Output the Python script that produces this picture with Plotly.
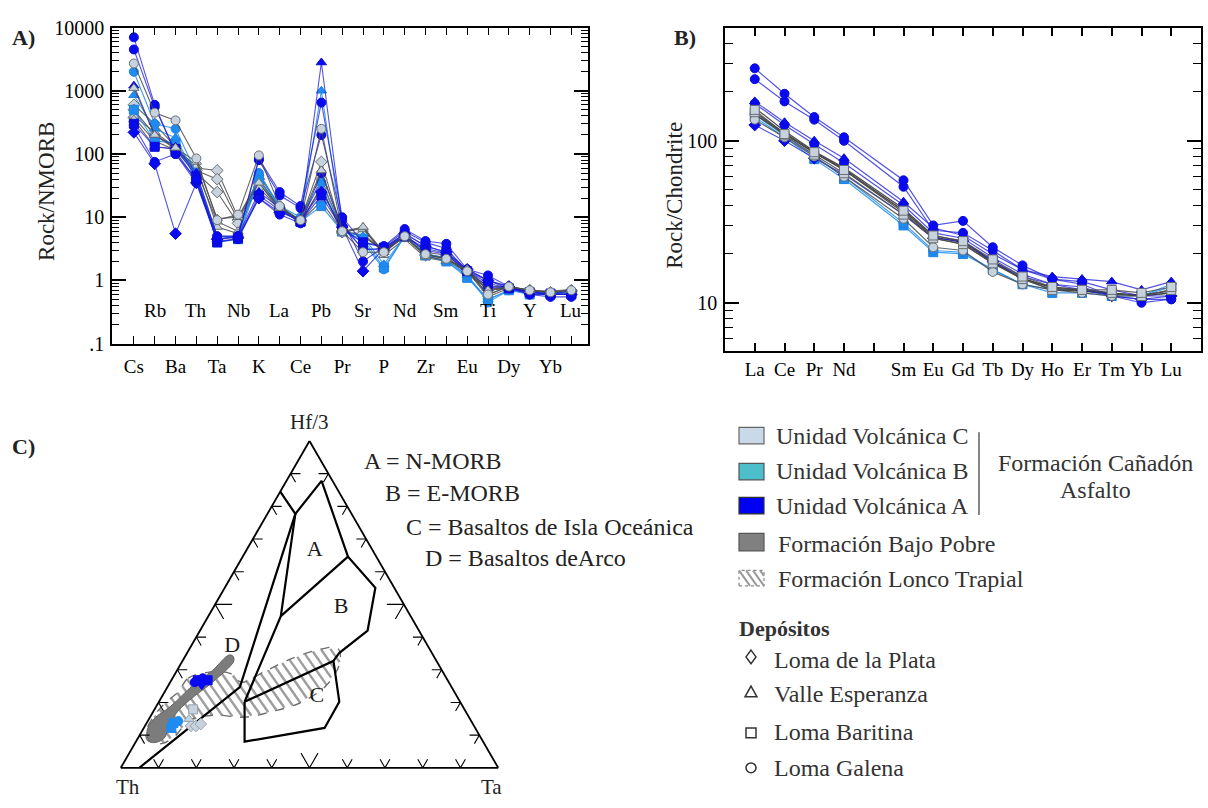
import numpy as np
import plotly.graph_objects as go

FONT = "Liberation Serif"
W, H = 1208, 808

# ---------------- Spider diagram normalised to N-MORB ----------------
spider_elements = ["Cs", "Rb", "Ba", "Th", "Ta", "Nb", "K", "La", "Ce", "Pb", "Pr",
                   "Sr", "P", "Nd", "Zr", "Sm", "Eu", "Ti", "Dy", "Y", "Yb", "Lu"]

# Unidad Volcánica A
nm_a1 = [7000, 600, 100, 40, 5.0, 5.0, 85, 25, 15, 650, 10, 4.0, 3.5, 6.5, 4.2, 3.8, 1.5, 1.2, 0.80, 0.65, 0.60, 0.60]
nm_a2 = [4500, 550, 110, 38, 4.5, 5.0, 80, 22, 14, 200, 9.0, 2.0, 3.4, 6.0, 4.0, 3.2, 1.4, 1.0, 0.80, 0.60, 0.55, 0.55]
nm_a3 = [220, 70, 5.5, 35, 4.5, 4.8, 20, 12, 9.0, 25, 7.0, 1.4, 3.2, 5.5, 3.5, 2.8, 1.5, 1.0, 0.80, 0.65, 0.60, 0.60]
nm_a4 = [1200, 200, 130, 50, 5.0, 5.0, 25, 14, 9.0, 2800, 8.0, 3.0, 3.3, 5.5, 3.5, 2.8, 1.5, 1.0, 0.75, 0.65, 0.60, 0.70]
nm_a5 = [280, 75, 100, 35, 4.2, 4.5, 20, 11, 8.0, 50, 7.0, 3.2, 3.0, 5.0, 3.0, 2.6, 1.4, 0.9, 0.75, 0.60, 0.60, 0.60]
nm_a6 = [300, 130, 120, 45, 4.0, 4.6, 22, 13, 8.5, 22, 6.5, 4.0, 3.3, 5.0, 3.2, 2.7, 1.4, 0.8, 0.75, 0.65, 0.62, 0.62]
# Unidad Volcánica B
nm_b1 = [2000, 300, 250, 50, 5.0, 5.0, 50, 15, 10, 35, 6.5, 4.0, 1.5, 5.0, 2.7, 2.2, 1.2, 0.45, 0.70, 0.65, 0.62, 0.65]
nm_b2 = [850, 250, 180, 45, 4.5, 5.0, 50, 14, 9.0, 1000, 6.0, 5.0, 1.8, 5.0, 2.5, 2.0, 1.2, 0.50, 0.70, 0.65, 0.60, 0.70]
nm_b3 = [500, 160, 150, 40, 4.0, 4.5, 40, 13, 8.5, 15, 6.0, 4.5, 1.6, 5.0, 2.5, 2.0, 1.1, 0.50, 0.70, 0.60, 0.60, 0.60]
# Unidad Volcánica C
nm_c1 = [2700, 450, 340, 85, 9.0, 11, 95, 15, 9.0, 250, 6.0, 2.8, 2.8, 5.0, 2.6, 2.2, 1.4, 0.60, 0.80, 0.70, 0.65, 0.70]
nm_c2 = [400, 220, 130, 55, 8.5, 6.0, 45, 15, 8.5, 18, 6.0, 6.5, 2.8, 5.0, 2.5, 2.2, 1.5, 0.60, 0.80, 0.70, 0.68, 0.72]
nm_c3 = [350, 130, 120, 65, 7.0, 5.5, 40, 14, 8.0, 30, 5.5, 7.0, 2.5, 4.5, 2.3, 2.0, 1.4, 0.55, 0.75, 0.68, 0.65, 0.70]
nm_c4 = [1100, 200, 125, 75, 9.5, 10, 35, 14, 9.0, 55, 6.0, 7.0, 2.8, 5.0, 2.4, 2.1, 1.5, 0.70, 0.80, 0.70, 0.65, 0.70]
nm_c5 = [600, 300, 130, 60, 55, 10, 40, 14, 9.0, 75, 6.0, 5.0, 3.0, 5.5, 2.8, 2.5, 1.4, 0.80, 0.80, 0.70, 0.65, 0.70]
nm_c6 = [500, 200, 120, 55, 40, 9.0, 35, 13, 8.5, 40, 6.0, 5.0, 3.0, 5.0, 2.6, 2.3, 1.3, 0.75, 0.75, 0.70, 0.62, 0.68]
nm_c7 = [380, 160, 115, 50, 25, 8.0, 30, 13, 8.5, 30, 5.8, 5.5, 2.8, 5.0, 2.5, 2.3, 1.35, 0.70, 0.75, 0.68, 0.62, 0.66]

# ---------------- REE diagram normalised to chondrite ----------------
ree_elements = ["La", "Ce", "Pr", "Nd", "Pm", "Sm", "Eu", "Gd", "Tb", "Dy", "Ho", "Er", "Tm", "Yb", "Lu"]
ree_labels = ["La", "Ce", "Pr", "Nd", "", "Sm", "Eu", "Gd", "Tb", "Dy", "Ho", "Er", "Tm", "Yb", "Lu"]

ch_a1 = [280, 195, 140, 105, None, 57, 30, 32, 22, 17, 14, 13.5, 12, 11, 11]
ch_a2 = [240, 175, 135, 100, None, 52, 28, 27, 21, 16, 14, 13, 11, 10, 10.5]
ch_a3 = [175, 130, 100, 78, None, 42, 29, 26, 20, 16, 14.5, 14, 13.5, 12, 13.5]
ch_a4 = [170, 125, 95, 73, None, 40, 27, 25, 19, 15, 13, 12.5, 11, 10.5, 10.5]
ch_a5 = [125, 100, 78, 62, None, 35, 25, 24, 18, 14.5, 13, 12, 11, 10.5, 11]
ch_b1 = [140, 105, 77, 58, None, 30, 20.5, 20, 16, 13, 11.5, 11.5, 11, 11, 12.5]
ch_b2 = [145, 108, 80, 60, None, 31, 21, 20.5, 16, 13, 12, 12, 11.5, 11, 13]
ch_c1 = [155, 110, 85, 66, None, 37, 26, 24, 18.5, 14.5, 12.5, 12, 12, 11.5, 12.5]
ch_c2 = [150, 108, 82, 63, None, 35, 25, 23, 17.5, 14, 12, 12, 11.5, 11, 12]
ch_c3 = [135, 105, 80, 60, None, 33, 22, 21, 15.5, 13, 12, 11.5, 11, 11, 12]
ch_bp1 = [160, 115, 86, 68, None, 38, 26, 24, 18, 14, 12.5, 12, 11.5, 11, 11.5]
ch_bp2 = [145, 110, 84, 66, None, 36, 25, 23, 17.5, 14, 12, 11.8, 11.3, 11, 11.5]
ch_bp3 = [150, 112, 85, 67, None, 37, 25.5, 23.5, 17.8, 14.2, 12.3, 11.9, 11.4, 11.2, 11.8]

# ---------------- Th - Hf/3 - Ta diagram (Wood, 1980) ----------------
# field boundary vertices as (Th, Hf/3, Ta) proportions
wood_th = {"V1": 0.951, "V2": 0.561, "V3": 0.149, "V4": 0.155, "V5": 0.029, "V6": 0.075, "V7": 0.050,
           "V8": 0.136, "V9": 0.246, "V10": 0.273, "V11": 0.320, "V12": 0.399, "V13": 0.632,
           "V14": 0.571, "V15": 0.344}
wood_hf = {"V1": 0.0, "V2": 0.247, "V3": 0.777, "V4": 0.845, "V5": 0.878, "V6": 0.646, "V7": 0.551,
           "V8": 0.420, "V9": 0.351, "V10": 0.327, "V11": 0.202, "V12": 0.122, "V13": 0.080,
           "V14": 0.202, "V15": 0.464}
wood_ta = {"V1": 0.049, "V2": 0.192, "V3": 0.074, "V4": 0.0, "V5": 0.093, "V6": 0.279, "V7": 0.399,
           "V8": 0.444, "V9": 0.403, "V10": 0.400, "V11": 0.478, "V12": 0.479, "V13": 0.288,
           "V14": 0.227, "V15": 0.192}
wood_lines = [["V1", "V2", "V3", "V4"],
              ["V3", "V5", "V6", "V7", "V8", "V9", "V10"],
              ["V15", "V6"],
              ["V3", "V15", "V14"],
              ["V14", "V10", "V11", "V12", "V13", "V14"]]
field_names = ["A", "B", "C", "D"]
field_hf = [0.664, 0.491, 0.217, 0.372]
field_ta = [0.182, 0.338, 0.411, 0.109]
field_th = [0.154, 0.171, 0.372, 0.519]

# Formación Bajo Pobre field
bp_hf = [0.083, 0.113, 0.149, 0.188, 0.253, 0.298, 0.345, 0.342, 0.327, 0.262, 0.208, 0.164, 0.119, 0.089, 0.077]
bp_ta = [0.033, 0.013, 0.013, 0.038, 0.065, 0.094, 0.114, 0.126, 0.136, 0.112, 0.079, 0.063, 0.067, 0.069, 0.049]
# Formación Lonco Trapial field
lt_hf = [0.232, 0.274, 0.292, 0.289, 0.262, 0.292, 0.330, 0.360, 0.366, 0.327, 0.256, 0.199, 0.173,
         0.155, 0.161, 0.143, 0.098, 0.074, 0.086, 0.119, 0.167, 0.202]
lt_ta = [0.036, 0.041, 0.084, 0.145, 0.189, 0.231, 0.279, 0.339, 0.391, 0.418, 0.420, 0.376, 0.317,
         0.251, 0.163, 0.107, 0.096, 0.071, 0.027, 0.010, 0.010, 0.020]

# samples
tern_a_hf = [0.268, 0.274, 0.268, 0.253, 0.262]
tern_a_ta = [0.070, 0.080, 0.096, 0.088, 0.065]
tern_b_hf = [0.137, 0.143, 0.122]
tern_b_ta = [0.071, 0.081, 0.073]
tern_c_hf = [0.179, 0.128, 0.128, 0.134, 0.149]
tern_c_ta = [0.102, 0.122, 0.135, 0.145, 0.106]

UNIT_STYLE = {
    "A": dict(fill="#0a0af0", edge="#0a0ad8", line="rgba(25,25,215,0.75)"),
    "B": dict(fill="#1e8cf2", edge="#1e80e0", line="rgba(30,140,240,0.85)"),
    "C": dict(fill="#c6d3de", edge="#6a6e72", line="rgba(75,75,75,0.85)"),
    "BP": dict(fill="#444444", edge="#444444", line="rgba(55,55,55,0.9)"),
}

spider_samples = [
    (nm_c5, "C", "diamond"), (nm_c6, "C", "diamond"), (nm_c7, "C", "diamond"),
    (nm_c2, "C", "triangle-up"), (nm_c3, "C", "triangle-up"),
    (nm_b3, "B", "square"), (nm_b1, "B", "circle"), (nm_b2, "B", "triangle-up"),
    (nm_a6, "A", "square"), (nm_a5, "A", "circle"), (nm_a3, "A", "diamond"),
    (nm_a4, "A", "triangle-up"), (nm_a2, "A", "circle"), (nm_a1, "A", "circle"),
    (nm_c4, "C", "triangle-up"), (nm_c1, "C", "circle"),
]
ree_samples = [
    (ch_b1, "B", "square"), (ch_b2, "B", "circle"),
    (ch_bp1, "BP", None), (ch_bp2, "BP", None), (ch_bp3, "BP", None),
    (ch_a5, "A", "diamond"), (ch_a4, "A", "circle"), (ch_a3, "A", "triangle-up"),
    (ch_a2, "A", "circle"), (ch_a1, "A", "circle"),
    (ch_c3, "C", "circle"), (ch_c2, "C", "square"), (ch_c1, "C", "square"),
]

fig = go.Figure()

for vals, unit, sym in spider_samples:
    st = UNIT_STYLE[unit]
    fig.add_trace(go.Scatter(
        x=list(range(len(spider_elements))), y=vals, mode="lines+markers",
        line=dict(color=st["line"], width=1.1),
        marker=dict(symbol=sym, size=9, color=st["fill"], line=dict(color=st["edge"], width=1)),
        xaxis="x", yaxis="y", showlegend=False, hoverinfo="skip"))

for vals, unit, sym in ree_samples:
    st = UNIT_STYLE[unit]
    fig.add_trace(go.Scatter(
        x=list(range(len(ree_elements))), y=vals, connectgaps=True,
        mode="lines" if sym is None else "lines+markers",
        line=dict(color=st["line"], width=1.2),
        marker=dict(symbol=sym or "circle", size=9, color=st["fill"], line=dict(color=st["edge"], width=1)),
        xaxis="x2", yaxis="y2", showlegend=False, hoverinfo="skip"))

# ---------------- ternary ----------------
SQ = np.sqrt(3) / 2


def to_xy(a, c):
    a = np.asarray(a, float)
    c = np.asarray(c, float)
    return c + a / 2, a * SQ


def to_ac(x, y):
    a = y / SQ
    return a, x - a / 2


def hatch(hf, ta, spacing=0.021, angle_deg=55):
    """Hatch segments inside a closed (Hf/3, Ta) outline, returned as a, b, c with gaps."""
    px_, py_ = to_xy(hf, ta)
    pts = np.column_stack([px_, py_])
    ang = np.radians(-angle_deg)
    d = np.array([np.cos(ang), np.sin(ang)])
    n = np.array([-d[1], d[0]])
    proj = pts @ n
    A, B, C = [], [], []
    for s in np.arange(proj.min() + spacing / 2, proj.max(), spacing):
        hits = []
        for i in range(len(pts)):
            p, q = pts[i], pts[(i + 1) % len(pts)]
            dp, dq = p @ n - s, q @ n - s
            if dp * dq < 0:
                t = dp / (dp - dq)
                hits.append(p + t * (q - p))
        hits.sort(key=lambda h: h @ d)
        for k in range(0, len(hits) - 1, 2):
            for h in (hits[k], hits[k + 1]):
                a, c = to_ac(h[0], h[1])
                A.append(a); C.append(c); B.append(1 - a - c)
            A.append(None); B.append(None); C.append(None)
    return A, B, C


ha, hb, hc = hatch(lt_hf, lt_ta)
fig.add_trace(go.Scatterternary(a=ha, b=hb, c=hc, mode="lines", subplot="ternary",
                                line=dict(color="rgba(140,140,140,0.85)", width=2.4),
                                showlegend=False, hoverinfo="skip", connectgaps=False))
fig.add_trace(go.Scatterternary(
    a=lt_hf + lt_hf[:1], c=lt_ta + lt_ta[:1],
    b=[1 - a - c for a, c in zip(lt_hf + lt_hf[:1], lt_ta + lt_ta[:1])],
    mode="lines", line=dict(color="#6e6e6e", width=1.4, dash="dash", shape="spline"),
    showlegend=False, hoverinfo="skip", subplot="ternary"))
fig.add_trace(go.Scatterternary(
    a=bp_hf + bp_hf[:1], c=bp_ta + bp_ta[:1],
    b=[1 - a - c for a, c in zip(bp_hf + bp_hf[:1], bp_ta + bp_ta[:1])],
    mode="lines", fill="toself", fillcolor="#7c7c7c",
    line=dict(color="#646464", width=1, shape="spline"),
    showlegend=False, hoverinfo="skip", subplot="ternary"))

for seg in wood_lines:
    fig.add_trace(go.Scatterternary(
        a=[wood_hf[k] for k in seg], b=[wood_th[k] for k in seg], c=[wood_ta[k] for k in seg],
        mode="lines", line=dict(color="black", width=2.2), showlegend=False,
        hoverinfo="skip", subplot="ternary"))

# chevron ticks along the three edges
ca, cb, cc = [], [], []
for i in range(1, 10):
    t = i / 10
    dd = 0.045 if i == 5 else 0.026
    for (p, q1, q2) in [
        ((0, 1 - t, t), (dd, 1 - t - dd, t), (dd, 1 - t, t - dd)),
        ((t, 1 - t, 0), (t, 1 - t - dd, dd), (t - dd, 1 - t, dd)),
        ((t, 0, 1 - t), (t, dd, 1 - t - dd), (t - dd, dd, 1 - t)),
    ]:
        for pt in (q1, p, q2):
            ca.append(pt[0]); cb.append(pt[1]); cc.append(pt[2])
        ca.append(None); cb.append(None); cc.append(None)
fig.add_trace(go.Scatterternary(a=ca, b=cb, c=cc, mode="lines", line=dict(color="black", width=1.1),
                                showlegend=False, hoverinfo="skip", subplot="ternary"))

fig.add_trace(go.Scatterternary(
    a=field_hf, b=field_th, c=field_ta, mode="text", text=field_names,
    textfont=dict(family=FONT, size=22, color="#1a1a1a"), showlegend=False,
    hoverinfo="skip", subplot="ternary"))

for hf, ta, unit, syms in [
    (tern_c_hf, tern_c_ta, "C", ["square", "diamond", "diamond", "diamond", "triangle-up"]),
    (tern_b_hf, tern_b_ta, "B", ["square", "circle", "square"]),
    (tern_a_hf, tern_a_ta, "A", ["square", "circle", "square", "triangle-down", "circle"]),
]:
    st = UNIT_STYLE[unit]
    fig.add_trace(go.Scatterternary(
        a=hf, c=ta, b=[1 - a - c for a, c in zip(hf, ta)], mode="markers",
        marker=dict(symbol=syms, size=9, color=st["fill"],
                    line=dict(color="#9aa4ad" if unit == "C" else st["fill"], width=1)),
        showlegend=False, hoverinfo="skip", subplot="ternary"))


def px(x):
    return x / W


def py(y):
    return 1 - y / H


# log minor ticks
minor_a = [m * 10.0 ** e for e in range(-1, 4) for m in range(2, 10)]
minor_b = [m * 10.0 ** e for e in range(0, 3) for m in range(2, 10) if 5 <= m * 10.0 ** e <= 500]

axis_common = dict(showline=True, linecolor="black", linewidth=1.6, mirror="ticks",
                   ticks="inside", showgrid=False, zeroline=False, tickcolor="black")
tern_axis = dict(title=dict(text=""), showgrid=False, showticklabels=False, ticks="",
                 linecolor="black", linewidth=1.8, min=0)

fig.update_layout(
    width=W, height=H, margin=dict(l=0, r=0, t=0, b=0),
    paper_bgcolor="white", plot_bgcolor="white",
    font=dict(family=FONT, color="black"),
    xaxis=dict(domain=[px(112), px(588)], range=[-1.05, 21.8], anchor="y",
               tickvals=list(range(len(spider_elements))),
               ticktext=[e if i % 2 == 0 else "" for i, e in enumerate(spider_elements)],
               ticklen=8, tickwidth=1.4, ticklabelstandoff=5,
               tickfont=dict(family=FONT, size=19), **axis_common),
    yaxis=dict(domain=[py(342), py(17)], type="log", range=[-1, 4], anchor="x",
               tickvals=[0.1, 1, 10, 100, 1000, 10000],
               ticktext=[".1", "1", "10", "100", "1000", "10000"],
               ticklen=14, tickwidth=1.6, ticklabelstandoff=2,
               minor=dict(tickvals=minor_a, ticks="inside", ticklen=7, tickwidth=1.4, tickcolor="black"),
               tickfont=dict(family=FONT, size=20), **axis_common),
    xaxis2=dict(domain=[px(725), px(1201)], range=[-1.0, 15.0], anchor="y2",
                tickvals=list(range(len(ree_elements))), ticktext=ree_labels,
                ticklen=9, tickwidth=1.6, ticklabelstandoff=0,
                tickfont=dict(family=FONT, size=19), **axis_common),
    yaxis2=dict(domain=[py(350), py(17)], type="log", range=[np.log10(5), np.log10(500)], anchor="x2",
                tickvals=[10, 100], ticktext=["10", "100"],
                ticklen=14, tickwidth=1.6, ticklabelstandoff=2,
                minor=dict(tickvals=minor_b, ticks="inside", ticklen=8, tickwidth=1.4, tickcolor="black"),
                tickfont=dict(family=FONT, size=20), **axis_common),
    ternary=dict(
        domain=dict(x=[px(116), px(503)], y=[py(778), py(442)]),
        sum=1, bgcolor="white",
        aaxis=tern_axis, baxis=tern_axis, caxis=tern_axis,
    ),
)

ann = []
# odd-position element names sit inside the spider plot
for i, e in enumerate(spider_elements):
    if i % 2 == 1:
        ann.append(dict(x=i, xref="x", y=0.105, yref="y domain", text=e, showarrow=False,
                        font=dict(family=FONT, size=19), yanchor="middle"))


def paper_text(x, y, text, size, color="#333", xanchor="left", angle=0):
    ann.append(dict(x=px(x), y=py(y), xref="paper", yref="paper", text=text, showarrow=False,
                    xanchor=xanchor, yanchor="middle", textangle=angle,
                    font=dict(family=FONT, size=size, color=color)))


paper_text(10, 27, "<b>A)</b>", 22, "#222")
paper_text(672, 27, "<b>B)</b>", 22, "#222")
paper_text(10, 448, "<b>C)</b>", 22, "#222")
paper_text(47, 186, "Rock/NMORB", 23, "#222", "center", -90)
paper_text(675, 190, "Rock/Chondrite", 23, "#222", "center", -90)
paper_text(309, 423, "Hf/3", 21, "#222", "center")
paper_text(128, 798, "Th", 21, "#222", "center")
paper_text(491, 798, "Ta", 21, "#222", "center")

legend_txt = [
    (362, 463, "A = N-MORB"), (383, 496, "B = E-MORB"),
    (404, 530, "C = Basaltos de Isla Oceánica"), (423, 562, "D = Basaltos deArco"),
    (774, 437, "Unidad Volcánica C"), (774, 473, "Unidad Volcánica B"),
    (774, 509, "Unidad Volcánica A"), (776, 548, "Formación Bajo Pobre"),
    (776, 584, "Formación Lonco Trapial"),
    (772, 667, "Loma de la Plata"), (772, 702, "Valle Esperanza"),
    (772, 741, "Loma Baritina"), (772, 778, "Loma Galena"),
]
for x, y, t in legend_txt:
    paper_text(x, y, t, 24, "#333" if x > 700 else "#222")
paper_text(1095, 465, "Formación Cañadón", 24, "#333", "center")
paper_text(1095, 492, "Asfalto", 24, "#333", "center")
paper_text(737, 635, "<b>Depósitos</b>", 22, "#333")
fig.update_layout(annotations=ann)

shapes = []


def rect(x0, y0, x1, y1, fill, edge="#555", dash="solid", w=1.2):
    shapes.append(dict(type="rect", xref="paper", yref="paper", x0=px(x0), x1=px(x1),
                       y0=py(y1), y1=py(y0), fillcolor=fill,
                       line=dict(color=edge, width=w, dash=dash)))


rect(739, 428, 764, 445, "#c9d9e8", "#666")
rect(739, 465, 764, 482, "#4cbfca", "#555")
rect(739, 500, 764, 517, "#0000f2", "#333")
rect(739, 537, 764, 555, "#808080", "#555")
rect(739, 575, 764, 591, "rgba(0,0,0,0)", "#888", "dot", 1.2)
for k in range(4):
    x0 = 739 + k * 7
    shapes.append(dict(type="line", xref="paper", yref="paper",
                       x0=px(x0), y0=py(575), x1=px(min(x0 + 11, 764)),
                       y1=py(575 + min(16, (764 - x0) * 16 / 11)),
                       line=dict(color="#999", width=2)))
shapes.append(dict(type="line", xref="paper", yref="paper", x0=px(979), x1=px(979), y0=py(433), y1=py(518),
                   line=dict(color="#444", width=1.3)))
# Depósitos symbols
sym_style = dict(color="#333", width=1.5)
shapes.append(dict(type="path", xref="paper", yref="paper",
                   path=f"M {px(751)},{py(657)} L {px(756)},{py(664)} L {px(751)},{py(671)} L {px(746)},{py(664)} Z",
                   line=sym_style))
shapes.append(dict(type="path", xref="paper", yref="paper",
                   path=f"M {px(751)},{py(694)} L {px(757)},{py(705)} L {px(745)},{py(705)} Z",
                   line=sym_style))
shapes.append(dict(type="rect", xref="paper", yref="paper", x0=px(746), x1=px(756), y0=py(747), y1=py(737),
                   line=sym_style))
shapes.append(dict(type="circle", xref="paper", yref="paper", x0=px(746), x1=px(756), y0=py(783), y1=py(773),
                   line=sym_style))
fig.update_layout(shapes=shapes)

fig.write_html("out.html")
